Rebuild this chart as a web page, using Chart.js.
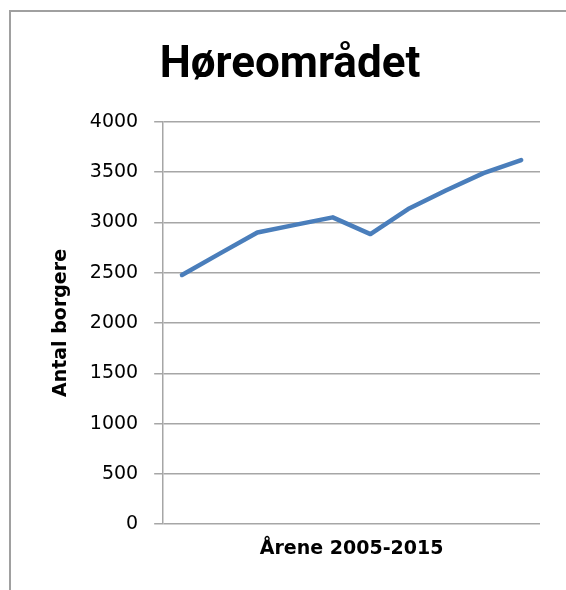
<!DOCTYPE html>
<html>
<head>
<meta charset="utf-8">
<title>Høreområdet</title>
<script src="https://cdn.jsdelivr.net/npm/chart.js@4"></script>
<style>
  html, body { margin: 0; padding: 0; background: #fff; overflow: hidden; }
  #chart { display: block; }
</style>
</head>
<body>
<canvas id="chart" width="566" height="590"></canvas>
<script>
// values (10 points along the line)
const years = ["2006", "2007", "2008", "2009", "2010", "2011", "2012", "2013", "2014", "2015"];
const borgere = [2477, 2690, 2900, 2975, 3050, 2884, 3133, 3317, 3490, 3620];
const yTicks = [0, 500, 1000, 1500, 2000, 2500, 3000, 3500, 4000];

const gridGray = "#a6a6a6";

// outer chart frame (only its left and top edges are inside the picture)
const framePlugin = {
  id: "frame",
  beforeDraw(chart) {
    const c = chart.ctx;
    c.save();
    c.strokeStyle = "#a0a0a0";
    c.lineWidth = 2;
    c.beginPath();
    c.moveTo(10, chart.height);
    c.lineTo(10, 11);
    c.lineTo(chart.width, 11);
    c.stroke();
    c.restore();
  },
};

const ctx = document.getElementById("chart").getContext("2d");
const chart = new Chart(ctx, {
  type: "line",
  data: {
    labels: years,
    datasets: [{
      label: "Antal borgere",
      data: borgere,
      borderColor: "#4a7ebb",
      borderWidth: 4.5,
      borderCapStyle: "round",
      borderJoinStyle: "round",
      pointRadius: 0,
      tension: 0,
      fill: false,
    }],
  },
  options: {
    responsive: false,
    animation: false,
    layout: { padding: { left: 40, right: 26, top: 40, bottom: 30 } },
    plugins: {
      legend: { display: false },
      tooltip: { enabled: false },
      title: {
        display: true,
        text: "Høreområdet",
        color: "#000",
        font: { family: "Roboto", size: 44, weight: "bold", lineHeight: 1.2 },
        padding: { top: 0, bottom: 29 },
      },
    },
    scales: {
      x: {
        offset: true,
        grid: { display: false },
        border: { display: false },
        ticks: { display: false },
        title: {
          display: true,
          text: "Årene 2005-2015",
          color: "#000",
          font: { family: "DejaVu Sans", size: 19, weight: "bold", lineHeight: 1.2 },
          padding: { top: 5, bottom: 0 },
        },
      },
      y: {
        min: 0,
        max: 4000,
        afterBuildTicks: (axis) => { axis.ticks = yTicks.map((v) => ({ value: v })); },
        grid: { color: gridGray, lineWidth: 1.5, tickLength: 9 },
        border: { color: gridGray, width: 1.5 },
        ticks: {
          color: "#000",
          padding: 16,
          font: { family: "DejaVu Sans", size: 19 },
          callback: (v) => String(v),
        },
        title: {
          display: true,
          text: "Antal borgere",
          color: "#000",
          font: { family: "DejaVu Sans", size: 19, weight: "bold", lineHeight: 1.2 },
          padding: { top: 10, bottom: 1 },
        },
      },
    },
  },
  plugins: [framePlugin],
});
</script>
</body>
</html>
